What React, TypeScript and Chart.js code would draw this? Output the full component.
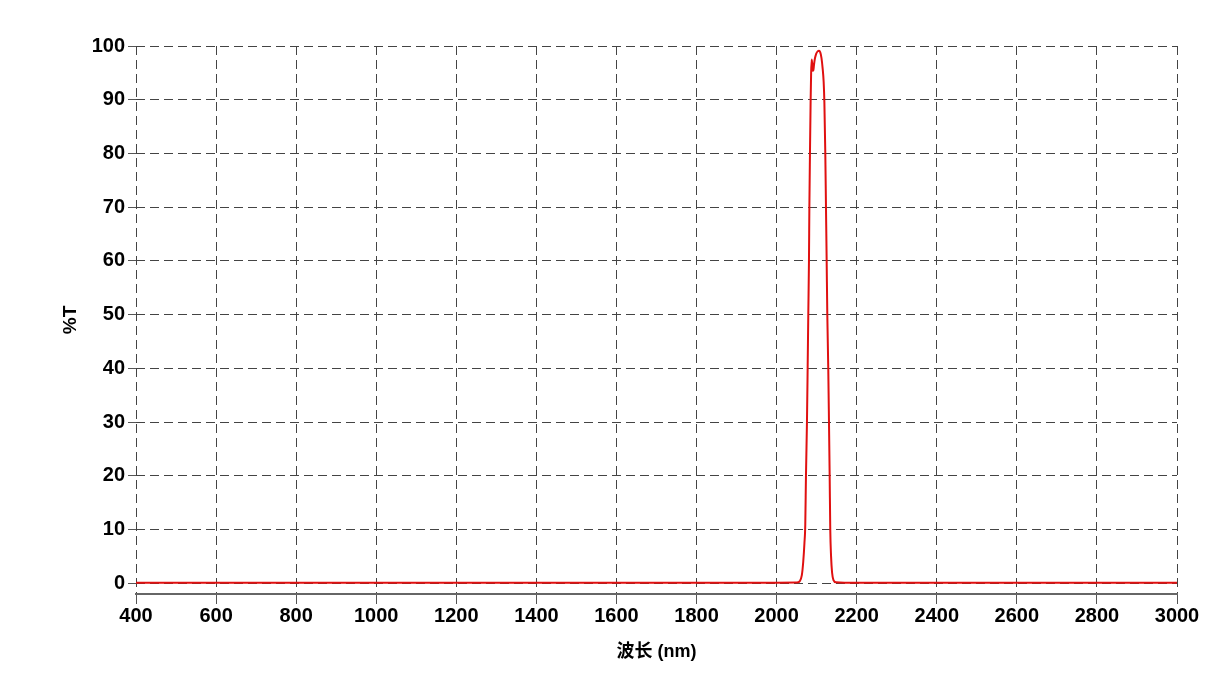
import React, { useEffect, useRef } from "react";
import { Chart, registerables } from "chart.js";

Chart.register(...registerables);

const wavelengths = [
  400, 1000, 1500, 2000, 2050, 2058, 2063, 2066.5, 2069.5, 2071.6, 2073.3, 2075.8, 2077.5, 2079.1,
  2080.8, 2081.8, 2083.3, 2085, 2086.2, 2087.5, 2088.7, 2090.2, 2091.8, 2093.5, 2096, 2099,
  2102.5, 2106, 2109, 2112, 2115, 2117.5, 2119.3, 2121.6, 2123.3, 2125, 2126.6, 2129, 2130.8,
  2132.5, 2134, 2136, 2138.5, 2142, 2148, 2200, 2500, 3000,
];
const transmission = [
  0.1, 0.1, 0.1, 0.1, 0.12, 0.4, 1.5, 4, 7.5, 11, 20, 30, 40, 50,
  60, 70, 80, 90, 95, 97.5, 96.8, 95.4, 95.5, 96.6, 97.8, 98.6,
  99, 99.1, 98.8, 97.8, 95.8, 93.3, 89.5, 80, 70, 60, 50, 40, 30,
  20, 10, 5, 2, 0.6, 0.2, 0.1, 0.1, 0.1,
];
const xTicks = [400, 600, 800, 1000, 1200, 1400, 1600, 1800, 2000, 2200, 2400, 2600, 2800, 3000];
const yTicks = [0, 10, 20, 30, 40, 50, 60, 70, 80, 90, 100];

const FONT = '"Liberation Sans", Arial, "Noto Sans CJK SC", sans-serif';

export default function App() {
  const ref = useRef<HTMLCanvasElement | null>(null);

  useEffect(() => {
    if (!ref.current) return;
    const points = wavelengths.map((w, i) => ({ x: w, y: transmission[i] }));
    const chart = new Chart(ref.current, {
      type: "line",
      data: {
        datasets: [
          {
            data: points,
            borderColor: "#e01010",
            borderWidth: 2,
            pointRadius: 0,
            cubicInterpolationMode: "monotone",
            fill: false,
          },
        ],
      },
      options: {
        animation: false,
        responsive: false,
        maintainAspectRatio: false,
        layout: { padding: { top: 46, right: 34, left: 59, bottom: 0 } },
        plugins: { legend: { display: false }, tooltip: { enabled: false } },
        scales: {
          x: {
            type: "linear",
            min: 400,
            max: 3000,
            afterBuildTicks: (s: any) => {
              s.ticks = xTicks.map((v) => ({ value: v }));
            },
            afterFit: (s: any) => {
              s.height = 677 - 594;
            },
            grid: {
              color: "#444",
              lineWidth: 1,
              tickLength: 10,
              tickColor: "#555",
            },
            border: { display: true, color: "#666", width: 2, dash: [9, 5] },
            ticks: {
              color: "#000",
              font: { family: FONT, size: 20, weight: "bold" },
              padding: 0,
              maxRotation: 0,
              autoSkip: false,
              callback: (v: any) => String(v),
            },
            title: {
              display: true,
              text: "波长 (nm)",
              color: "#000",
              font: { family: FONT, size: 18, weight: "bold" },
              padding: { top: 0, bottom: 14 },
            },
          },
          y: {
            type: "linear",
            min: -2,
            max: 100,
            afterBuildTicks: (s: any) => {
              s.ticks = yTicks.map((v) => ({ value: v }));
            },
            afterFit: (s: any) => {
              s.width = 136 - 59;
            },
            grid: {
              color: "#444",
              lineWidth: 1,
              tickLength: 8,
              tickColor: "#555",
            },
            border: { display: false, dash: [9, 5] },
            ticks: {
              color: "#000",
              font: { family: FONT, size: 20, weight: "bold" },
              padding: 3,
              callback: (v: any) => String(v),
            },
            title: {
              display: true,
              text: "%T",
              color: "#000",
              font: { family: FONT, size: 19, weight: "bold" },
              padding: { top: 0, bottom: 0 },
            },
          },
        },
      },
    } as any);
    return () => chart.destroy();
  }, []);

  return (
    <div style={{ position: "absolute", left: 0, top: 0, width: 1211, height: 677, background: "#fff" }}>
      <canvas ref={ref} width={1211} height={677} style={{ width: 1211, height: 677 }} />
    </div>
  );
}
